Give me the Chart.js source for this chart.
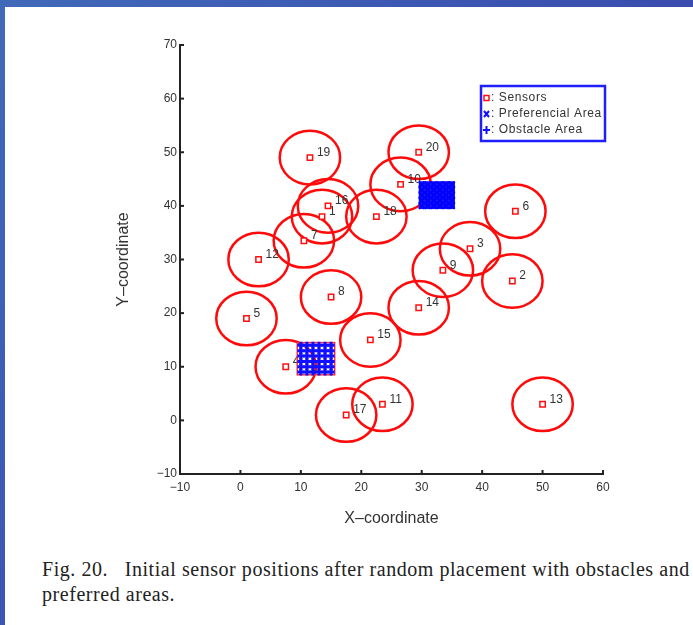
<!DOCTYPE html>
<html>
<head>
<meta charset="utf-8">
<script src="https://cdn.jsdelivr.net/npm/chart.js@4.4.0/dist/chart.umd.min.js"></script>
<style>
  html, body { margin:0; padding:0; background:#fff; }
  body { width:693px; height:625px; position:relative; overflow:hidden; }
  #topBar { position:absolute; left:0; top:0; width:693px; height:7px; background:linear-gradient(90deg,#4169b9,#3a4cae); z-index:2; }
  #leftBar { position:absolute; left:0; top:0; width:5px; height:625px; background:linear-gradient(180deg,#4169b9,#3b56b3); z-index:2; }
  #wrap { position:absolute; left:0; top:0; width:693px; height:540px; }
  #caption { position:absolute; left:42px; top:557px; font-family:"Liberation Serif", serif; font-size:20px; letter-spacing:0.55px; line-height:25px; color:#222; white-space:nowrap; }
</style>
</head>
<body>
<div id="topBar"></div>
<div id="leftBar"></div>
<div id="wrap"><canvas id="dash" width="693" height="540"></canvas></div>
<div id="caption">Fig. 20.&nbsp;&nbsp;&nbsp;Initial sensor positions after random placement with obstacles and<br>preferred areas.</div>
<script>
// sensores (numero, x, y)
const sensorIds = [1, 2, 3, 4, 5, 6, 7, 8, 9, 10, 11, 12, 13, 14, 15, 16, 17, 18, 19, 20];
const sensorX = [13.5, 45, 38, 7.5, 1, 45.5, 10.5, 15, 33.5, 26.5, 23.5, 3, 50, 29.5, 21.5, 14.5, 17.5, 22.5, 11.5, 29.5];
const sensorY = [38, 26, 32, 10, 19, 39, 33.5, 23, 28, 44, 3, 30, 3, 21, 15, 40, 1, 38, 49, 50];
const sensingRadius = 5;

// areas
const prefCols = [30, 31, 32, 33, 34, 35];
const prefRows = [40, 41, 42, 43, 44];
const obstCols = [10, 11, 12, 13, 14, 15];
const obstRows = [9, 10, 11, 12, 13, 14];

const xTicks = [-10, 0, 10, 20, 30, 40, 50, 60];
const yTicks = [-10, 0, 10, 20, 30, 40, 50, 60, 70];

const legendLabels = [": Sensors", ": Preferencial Area", ": Obstacle Area"];

function grid(cols, rows) {
  const pts = [];
  rows.forEach(function (y) { cols.forEach(function (x) { pts.push({ x: x, y: y }); }); });
  return pts;
}

const sensorPts = sensorIds.map(function (id, i) { return { x: sensorX[i], y: sensorY[i] }; });

const desenho = {
  id: "desenho",
  beforeDatasetsDraw(chart) {
    const ctx = chart.ctx;
    const sx = chart.scales.x, sy = chart.scales.y;
    ctx.save();
    // circulos de alcance
    ctx.strokeStyle = "#ff0a0a";
    ctx.lineWidth = 2.5;
    sensorIds.forEach(function (id, i) {
      const cx = sx.getPixelForValue(sensorX[i]);
      const cy = sy.getPixelForValue(sensorY[i]);
      const rx = sx.getPixelForValue(sensorX[i] + sensingRadius) - cx;
      const ry = cy - sy.getPixelForValue(sensorY[i] + sensingRadius);
      ctx.beginPath();
      ctx.ellipse(cx, cy, rx, ry, 0, 0, Math.PI * 2);
      ctx.stroke();
    });
    // numeros
    ctx.fillStyle = "#333";
    ctx.font = "12px 'Liberation Sans', Arial, sans-serif";
    ctx.textAlign = "left";
    ctx.textBaseline = "middle";
    sensorIds.forEach(function (id, i) {
      ctx.fillText(String(id), sx.getPixelForValue(sensorX[i]) + 7, sy.getPixelForValue(sensorY[i]) - 5);
    });
    // area preferencial (fundo azul)
    const px0 = sx.getPixelForValue(Math.min(...prefCols) - 0.5);
    const px1 = sx.getPixelForValue(Math.max(...prefCols) + 0.5);
    const py0 = sy.getPixelForValue(Math.max(...prefRows) + 0.6);
    const py1 = sy.getPixelForValue(Math.min(...prefRows) - 0.6);
    ctx.fillStyle = "#1414f5";
    ctx.fillRect(px0, py0, px1 - px0, py1 - py0);
    // contorno do obstaculo
    const ox0 = sx.getPixelForValue(Math.min(...obstCols) - 0.6);
    const ox1 = sx.getPixelForValue(Math.max(...obstCols) + 0.6);
    const oy0 = sy.getPixelForValue(Math.max(...obstRows) + 0.5);
    const oy1 = sy.getPixelForValue(Math.min(...obstRows) - 0.5);
    ctx.strokeStyle = "#ff3030";
    ctx.lineWidth = 1.5;
    ctx.strokeRect(ox0, oy0, ox1 - ox0, oy1 - oy0);
    ctx.restore();
  },
  afterDraw(chart) {
    const ctx = chart.ctx;
    const sx = chart.scales.x, sy = chart.scales.y;
    const area = chart.chartArea;
    ctx.save();
    // ticks para dentro (estilo matlab)
    ctx.strokeStyle = "#222";
    ctx.lineWidth = 2;
    xTicks.forEach(function (v) {
      const p = sx.getPixelForValue(v);
      ctx.beginPath(); ctx.moveTo(p, area.bottom); ctx.lineTo(p, area.bottom - 4); ctx.stroke();
    });
    yTicks.forEach(function (v) {
      const p = sy.getPixelForValue(v);
      ctx.beginPath(); ctx.moveTo(area.left, p); ctx.lineTo(area.left + 4, p); ctx.stroke();
    });
    // legenda
    const lx = 481, ly = 86, lw = 124, lh = 55;
    ctx.fillStyle = "#fff";
    ctx.fillRect(lx, ly, lw, lh);
    ctx.strokeStyle = "#1e1eff";
    ctx.lineWidth = 2.5;
    ctx.strokeRect(lx, ly, lw, lh);
    const rows = [ly + 12, ly + 28, ly + 44];
    // quadrado
    ctx.strokeStyle = "#ff1010"; ctx.lineWidth = 1.5;
    ctx.strokeRect(lx + 3, rows[0] - 2.5, 5, 5);
    // x
    ctx.strokeStyle = "#1010ff"; ctx.lineWidth = 2;
    ctx.beginPath();
    ctx.moveTo(lx + 3, rows[1] - 3); ctx.lineTo(lx + 8, rows[1] + 3);
    ctx.moveTo(lx + 8, rows[1] - 3); ctx.lineTo(lx + 3, rows[1] + 3);
    ctx.stroke();
    // +
    ctx.beginPath();
    ctx.moveTo(lx + 2, rows[2]); ctx.lineTo(lx + 9, rows[2]);
    ctx.moveTo(lx + 5.5, rows[2] - 4); ctx.lineTo(lx + 5.5, rows[2] + 4);
    ctx.stroke();
    ctx.fillStyle = "#333";
    ctx.font = "12px 'Liberation Sans', Arial, sans-serif";
    ctx.letterSpacing = "0.6px";
    ctx.textAlign = "left";
    ctx.textBaseline = "middle";
    legendLabels.forEach(function (t, i) { ctx.fillText(t, lx + 10, rows[i]); });
    ctx.restore();
  }
};

const dash = document.getElementById("dash");

new Chart(dash, {
  type: "scatter",
  data: {
    datasets: [
      {
        label: "Preferencial Area",
        data: grid(prefCols, prefRows),
        pointStyle: "crossRot",
        pointRadius: 4,
        borderWidth: 2,
        borderColor: "#0000ff",
      },
      {
        label: "Obstacle Area",
        data: grid(obstCols, obstRows),
        pointStyle: "cross",
        pointRadius: 3.5,
        borderWidth: 3,
        borderColor: "#1010ff",
      },
      {
        label: "Sensors",
        data: sensorPts,
        pointStyle: "rect",
        pointRadius: 3.8,
        borderWidth: 1.5,
        borderColor: "#ff1010",
        backgroundColor: "#ffffff",
      },
    ],
  },
  options: {
    responsive: false,
    animation: false,
    events: [],
    layout: { padding: { left: 110, top: 45, right: 90, bottom: 8 } },
    scales: {
      x: {
        type: "linear",
        min: -10,
        max: 60,
        afterBuildTicks: function (s) { s.ticks = xTicks.map(function (v) { return { value: v }; }); },
        afterFit: function (s) { s.height = 58; },
        ticks: {
          color: "#333",
          padding: 6,
          maxRotation: 0,
          font: { size: 12, family: "'Liberation Sans', Arial" },
          callback: function (v) { return String(v).replace("-", "\u2212"); },
        },
        grid: { display: false, drawTicks: false },
        border: { color: "#222", width: 2 },
        title: {
          display: true,
          text: "X\u2013coordinate",
          color: "#333",
          font: { size: 16, family: "'Liberation Sans', Arial" },
          padding: { top: 0, bottom: 4 },
        },
      },
      y: {
        type: "linear",
        min: -10,
        max: 70,
        afterBuildTicks: function (s) { s.ticks = yTicks.map(function (v) { return { value: v }; }); },
        afterFit: function (s) { s.width = 70; },
        ticks: {
          color: "#333",
          padding: 3,
          font: { size: 12, family: "'Liberation Sans', Arial" },
          callback: function (v) { return String(v).replace("-", "\u2212"); },
        },
        grid: { display: false, drawTicks: false },
        border: { color: "#222", width: 2 },
        title: {
          display: true,
          text: "Y\u2013coordinate",
          color: "#333",
          font: { size: 16, family: "'Liberation Sans', Arial" },
          padding: { top: 4, bottom: 0 },
        },
      },
    },
    plugins: {
      legend: { display: false },
      tooltip: { enabled: false },
    },
  },
  plugins: [desenho],
});
</script>
</body>
</html>
